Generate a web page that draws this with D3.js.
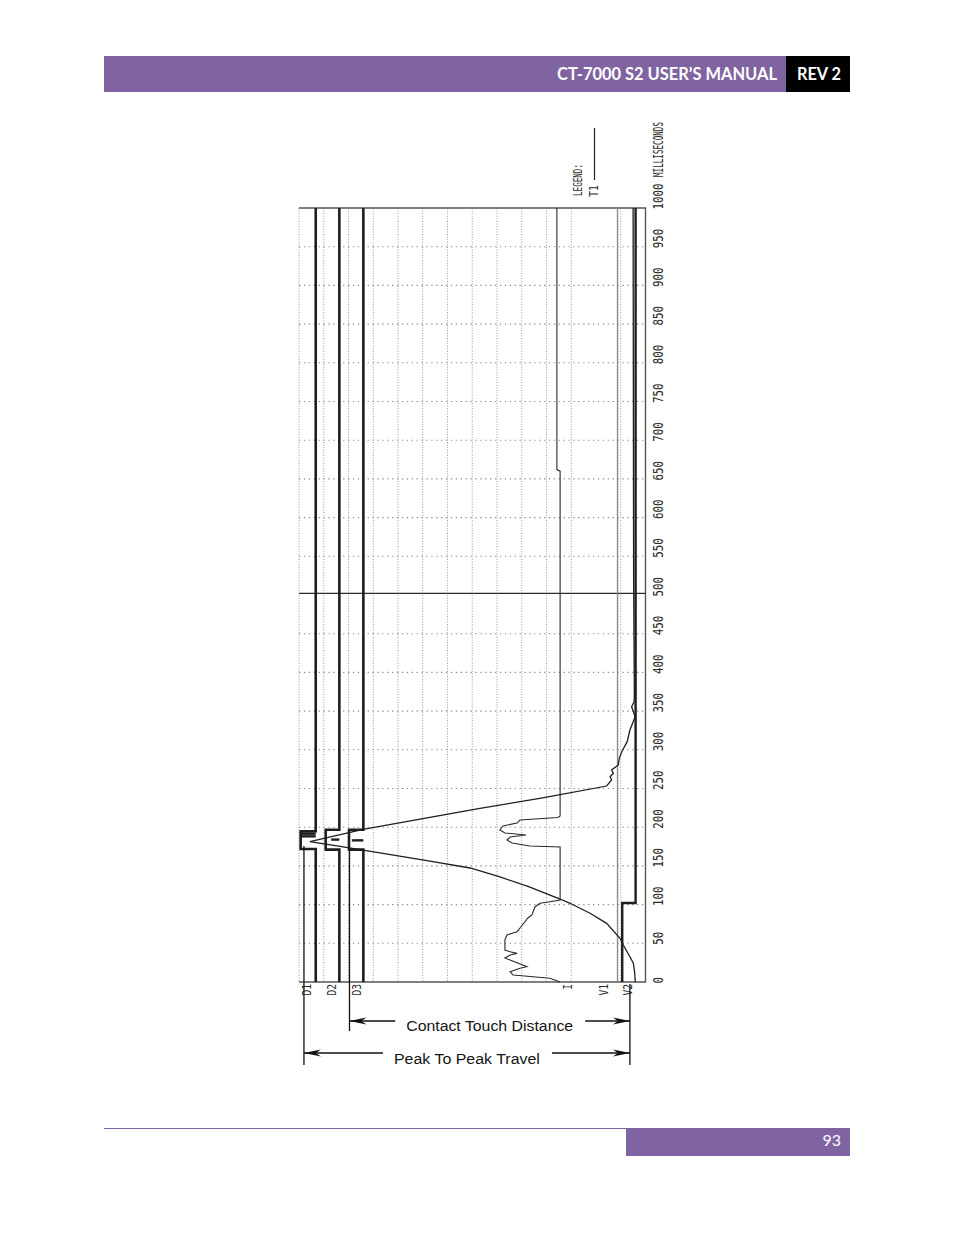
<!DOCTYPE html>
<html>
<head>
<meta charset="utf-8">
<script src="https://cdn.jsdelivr.net/npm/d3@7/dist/d3.min.js"></script>
<style>
  html, body { margin: 0; padding: 0; background: #fff; }
</style>
</head>
<body>
<script>
// time axis, milliseconds (plot is drawn rotated: time runs bottom -> top)
const timeTicks = [0, 50, 100, 150, 200, 250, 300, 350, 400, 450, 500,
                   550, 600, 650, 700, 750, 800, 850, 900, 950, 1000];
const timeGrid = [50, 100, 150, 200, 250, 300, 350, 400, 450,
                  550, 600, 650, 700, 750, 800, 850, 900, 950];
// chart divisions across the plot (no grid line at 12 on the original)
const divGrid = [0, 1, 2, 3, 4, 5, 6, 7, 8, 9, 10, 11, 13];
const cursorMs = 502;

const channelNames = ['D1', 'D2', 'D3', 'I', 'V1', 'V2'];
const channelLabelDiv = [0.28, 1.29, 2.3, 10.79, 12.28, 13.25];

// contact channels D1..D3 : baseline, close / open time, swing (divisions)
const contactBase = [0.676, 1.63, 2.6];
const contactClose = [171.8, 171, 171];
const contactOpen = [194.7, 196.8, 196.8];
const contactSwing = [-0.61, -0.55, -0.58];
// [channel, ms, fraction of swing]
const contactBounce = [[0, 188.2, 1], [0, 191.6, 1], [0, 194.7, 1], [1, 184, 0.6], [2, 183, 0.8]];

// T1 travel trace
const travelMs = [0, 4.8, 15.5, 24.2, 32.7, 47.8, 56.5, 75.8, 88.8, 101.7, 107.2, 122.7,
                  135.7, 147.3, 156.3, 166.7, 175.1, 181.5, 197.3, 224.4, 237.3, 253.2,
                  261, 265.2, 269.6, 273.9, 280.4, 289, 297.5, 310.5, 325.6, 334.2, 342.8, 349.2,
                  355.7, 362.1, 373, 520, 1000];
const travelDiv = [13.58, 13.58, 13.55, 13.51, 13.37, 13.10, 12.97, 12.43, 11.76, 10.95, 10.55, 9.33,
                   8.12, 6.91, 5.29, 3.27, 1.66, 0.44, 2.59, 7.31, 9.73, 12.43,
                   12.63, 12.57, 12.70, 12.63, 12.90, 12.94, 13.04, 13.26, 13.37, 13.48, 13.58, 13.51,
                   13.44, 13.54, 13.55, 13.52, 13.50];

// coil current trace
const currentMs = [0, 4.8, 9, 13.3, 17.7, 19.8, 28.4, 31, 34.9, 37, 39, 41.3,
                   54.3, 60.7, 63.3, 65, 69.8, 82.7, 86.6, 97.3, 101.7, 103.7, 106,
                   174.4, 175.7, 179.6, 183.5, 187.3, 190, 192.5, 196.4, 201.6, 205.4, 209.3, 212.5,
                   214.5, 660, 662, 1000];
const currentDiv = [10.55, 10.14, 8.65, 8.53, 8.93, 9.21, 8.53, 8.32, 8.53, 8.81, 8.53, 8.32,
                    8.32, 8.40, 8.65, 8.81, 8.93, 9.25, 9.41, 9.54, 9.74, 10.14, 10.55,
                    10.55, 9.33, 8.61, 8.40, 8.53, 9.17, 8.32, 8.12, 8.24, 8.81, 8.93, 10.46,
                    10.55, 10.55, 10.42, 10.42];

const v1Div = 12.87;
const v2Ms = [0, 102, 102, 1000];
const v2Div = [13.06, 13.06, 13.60, 13.60];

// hand-drawn dimension marks under the plot
const peakDiv = 0.2, touchDiv = 2.04, zeroDiv = 13.37;
const peakMs = 175.7, touchMs = 173;


const svg = d3.select('body')
    .append('svg')
      .attr('width', 954)
      .attr('height', 1235)
      .style('font-family', 'Liberation Sans, Arial, sans-serif');

const x = d3.scaleLinear().domain([0, 14]).range([299, 645.5]);
const y = d3.scaleLinear().domain([0, 1000]).range([982, 208]);

const ink = '#1e1e1e';
const plotFont = 'DejaVu Sans Mono, monospace';

const trace = d3.line()
    .x((d) => x(d[0]))
    .y((d) => y(d[1]));


// ---- page header / footer
svg.append('rect').attr('x', 104).attr('y', 56).attr('width', 682).attr('height', 36).attr('fill', '#8064a2');
svg.append('rect').attr('x', 786).attr('y', 56).attr('width', 64).attr('height', 36).attr('fill', '#000');
svg.append('text')
    .attr('x', 777).attr('y', 80)
    .attr('text-anchor', 'end')
    .attr('textLength', 220).attr('lengthAdjust', 'spacingAndGlyphs')
    .style('font-family', 'Lato, sans-serif').style('font-weight', 700).style('font-size', '16.5px')
    .attr('fill', '#fff')
    .text('CT-7000 S2 USER\u2019S MANUAL');
svg.append('text')
    .attr('x', 819).attr('y', 80)
    .attr('text-anchor', 'middle')
    .attr('textLength', 44).attr('lengthAdjust', 'spacingAndGlyphs')
    .style('font-family', 'Lato, sans-serif').style('font-weight', 700).style('font-size', '16.5px')
    .attr('fill', '#fff')
    .text('REV 2');

svg.append('line').attr('x1', 104).attr('x2', 850).attr('y1', 1128.5).attr('y2', 1128.5)
    .attr('stroke', '#8064a2').attr('stroke-width', 1);
svg.append('rect').attr('x', 626).attr('y', 1129).attr('width', 224).attr('height', 27).attr('fill', '#8064a2');
svg.append('text')
    .attr('x', 841).attr('y', 1146)
    .attr('text-anchor', 'end')
    .style('font-family', 'Lato, sans-serif').style('font-size', '16px')
    .attr('fill', '#fff')
    .text('93');


// ---- grid
const plot = svg.append('g');

plot.selectAll('line.hgrid')
    .data(timeGrid)
    .enter()
    .append('line')
      .attr('class', 'hgrid')
      .attr('x1', x(0)).attr('x2', x(14))
      .attr('y1', (d) => y(d)).attr('y2', (d) => y(d))
      .attr('stroke', '#8a8a8a')
      .attr('stroke-width', 1.1)
      .attr('stroke-dasharray', '1.3,3.6');

plot.selectAll('line.vgrid')
    .data(divGrid)
    .enter()
    .append('line')
      .attr('class', 'vgrid')
      .attr('x1', (d) => x(d)).attr('x2', (d) => x(d))
      .attr('y1', y(1000)).attr('y2', y(0))
      .attr('stroke', '#9a9a9a')
      .attr('stroke-width', 1)
      .attr('stroke-dasharray', '1,1.6');

// frame: top, right, bottom
plot.append('path')
    .attr('d', `M${x(0)},${y(1000)}H${x(14)}V${y(0)}H${x(0)}`)
    .attr('fill', 'none')
    .attr('stroke', '#555')
    .attr('stroke-width', 1.4);

// cursor line
plot.append('line')
    .attr('x1', x(0)).attr('x2', x(14))
    .attr('y1', y(cursorMs)).attr('y2', y(cursorMs))
    .attr('stroke', '#2a2a2a')
    .attr('stroke-width', 1.2);


// ---- traces
// contact channels
contactBase.forEach((b, i) => {
  const s = b + contactSwing[i];
  plot.append('path')
      .attr('d', trace([[b, 0], [b, contactClose[i]], [s, contactClose[i]],
                        [s, contactOpen[i]], [b, contactOpen[i]], [b, 1000]]))
      .attr('fill', 'none')
      .attr('stroke', ink)
      .attr('stroke-width', 2.6);
});

plot.selectAll('line.bounce')
    .data(contactBounce)
    .enter()
    .append('line')
      .attr('class', 'bounce')
      .attr('x1', (d) => x(contactBase[d[0]]))
      .attr('x2', (d) => x(contactBase[d[0]] + contactSwing[d[0]] * d[2]))
      .attr('y1', (d) => y(d[1])).attr('y2', (d) => y(d[1]))
      .attr('stroke', ink)
      .attr('stroke-width', 2.4);

// V1 (grey) and V2
plot.append('line')
    .attr('x1', x(v1Div)).attr('x2', x(v1Div))
    .attr('y1', y(0)).attr('y2', y(1000))
    .attr('stroke', '#8c8c8c')
    .attr('stroke-width', 1.4);

plot.append('path')
    .attr('d', trace(d3.zip(v2Div, v2Ms)))
    .attr('fill', 'none')
    .attr('stroke', ink)
    .attr('stroke-width', 2.4);

// coil current
plot.append('path')
    .attr('d', trace(d3.zip(currentDiv, currentMs)))
    .attr('fill', 'none')
    .attr('stroke', '#2a2a2a')
    .attr('stroke-width', 1.1);

// travel
plot.append('path')
    .attr('d', trace(d3.zip(travelDiv, travelMs)))
    .attr('fill', 'none')
    .attr('stroke', ink)
    .attr('stroke-width', 1.3);


// ---- plotter lettering (rotated)
const rotText = (px, py, str, len, size) => {
  return svg.append('text')
      .attr('transform', `translate(${px},${py}) rotate(-90)`)
      .attr('textLength', len)
      .attr('lengthAdjust', 'spacingAndGlyphs')
      .style('font-family', plotFont)
      .style('font-size', size + 'px')
      .attr('fill', '#2b2b2b')
      .text(str);
}

timeTicks.forEach((t) => {
  rotText(663, y(t) + 1.5, String(t), String(t).length * 6.5, 14);
});
rotText(663, 177, 'MILLISECONDS', 55, 14);

rotText(582, 196, 'LEGEND:', 32, 12);
rotText(598, 197, 'T1', 12, 12);
svg.append('line')
    .attr('x1', 594.5).attr('x2', 594.5)
    .attr('y1', 180).attr('y2', 128)
    .attr('stroke', ink)
    .attr('stroke-width', 1.2);

channelNames.forEach((n, i) => {
  rotText(x(channelLabelDiv[i]) + 5.5, 984, n, n.length * 5.8, 12)
      .attr('text-anchor', 'end');
});


// ---- dimension marks
const ann = svg.append('g');

const extLine = (u, y1, y2) => {
  ann.append('line')
      .attr('x1', x(u)).attr('x2', x(u))
      .attr('y1', y1).attr('y2', y2)
      .attr('stroke', '#111')
      .attr('stroke-width', 1.3);
}
extLine(peakDiv, y(peakMs), 1065);
extLine(touchDiv, y(touchMs), 1031);
extLine(zeroDiv, y(0) + 2, 1065);

const arrowHead = (tipX, yy, dir) => {
  const p = [[tipX, yy], [tipX + dir * 17, yy - 3.6], [tipX + dir * 12, yy], [tipX + dir * 17, yy + 3.6]];
  ann.append('path')
      .attr('d', 'M' + p.map((q) => q.join(',')).join('L') + 'Z')
      .attr('fill', '#111');
}

const dimension = (u1, u2, yy, label, baseline, len) => {
  const cx = (x(u1) + x(u2)) / 2;
  ann.append('text')
      .attr('x', cx).attr('y', baseline)
      .attr('text-anchor', 'middle')
      .attr('textLength', len).attr('lengthAdjust', 'spacingAndGlyphs')
      .style('font-size', '15.5px')
      .attr('fill', '#141414')
      .text(label);
  const left = cx - len / 2 - 11, right = cx + len / 2 + 12;
  [[x(u1), left], [right, x(u2)]].forEach((s) => {
    ann.append('line')
        .attr('x1', s[0]).attr('x2', s[1])
        .attr('y1', yy).attr('y2', yy)
        .attr('stroke', '#111')
        .attr('stroke-width', 1.3);
  });
  arrowHead(x(u1), yy, 1);
  arrowHead(x(u2), yy, -1);
}
dimension(touchDiv, zeroDiv, 1021, 'Contact Touch Distance', 1031, 167);
dimension(peakDiv, zeroDiv, 1053, 'Peak To Peak Travel', 1063.5, 146);
</script>
</body>
</html>
